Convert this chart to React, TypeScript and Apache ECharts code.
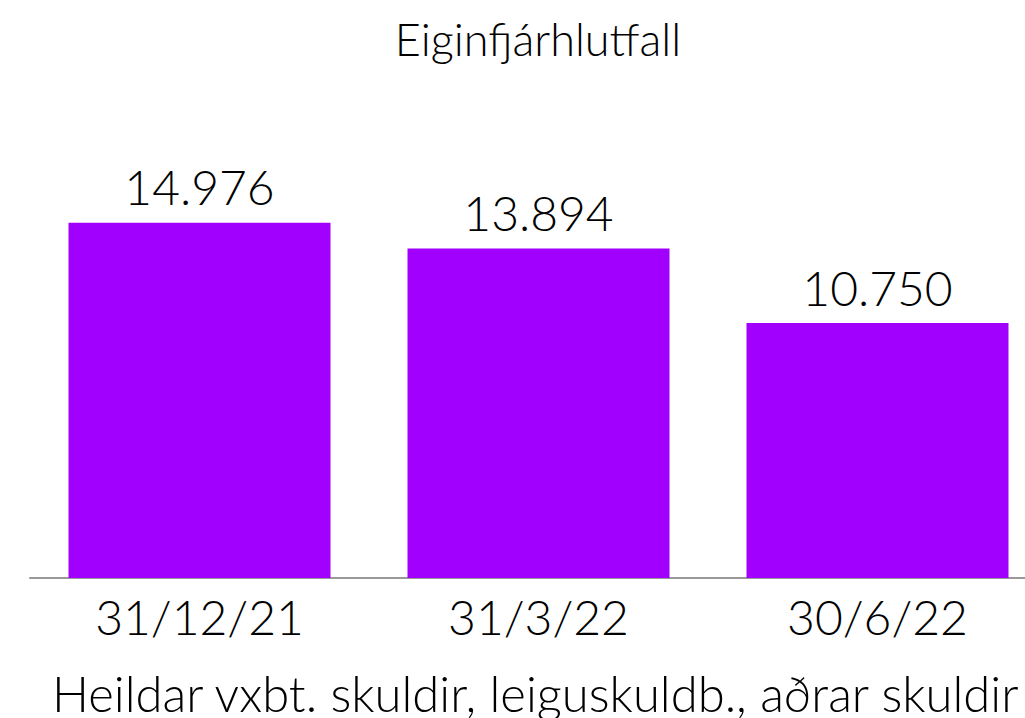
import React, { useEffect, useRef } from "react";
import * as echarts from "echarts";

const categories = ["31/12/21", "31/3/22", "30/6/22"];
const values = [14976, 13894, 10750];
const titleText = "Eiginfjárhlutfall";
const seriesName = "Heildar vxbt. skuldir, leiguskuldb., aðrar skuldir";

const FONT = "Lato";

function fmt(v: number): string {
  return String(v).replace(/\B(?=(\d{3})+(?!\d))/g, ".");
}

export default function App() {
  const ref = useRef<HTMLDivElement>(null);
  useEffect(() => {
    if (!ref.current) return;
    const chart = echarts.init(ref.current, null, { renderer: "svg" });
    chart.setOption({
      animation: false,
      backgroundColor: "#ffffff",
      textStyle: { fontFamily: FONT },
      title: {
        text: titleText,
        left: 538,
        top: 16,
        padding: 0,
        textAlign: "center",
        textStyle: { fontFamily: FONT, fontSize: 45, fontWeight: 300, color: "#000" },
      },
      grid: { left: 30, right: 13, top: 198.5, bottom: 140, containLabel: false },
      xAxis: {
        type: "category",
        data: categories,
        axisLine: { show: true, lineStyle: { color: "#999999", width: 2 } },
        axisTick: { show: false },
        axisLabel: {
          margin: 14,
          fontFamily: FONT,
          fontSize: 48,
          fontWeight: 300,
          color: "#000",
          interval: 0,
        },
      },
      yAxis: {
        type: "value",
        min: 0,
        max: 16000,
        show: false,
        splitLine: { show: false },
      },
      graphic: [
        {
          type: "text",
          left: 52,
          top: 668,
          style: {
            text: seriesName,
            fontFamily: FONT,
            fontSize: 49,
            fontWeight: 300,
            fill: "#000",
          },
        },
      ],
      series: [
        {
          name: seriesName,
          type: "bar",
          data: values,
          barWidth: 262,
          itemStyle: { color: "#A100FF" },
          label: {
            show: true,
            position: "top",
            distance: 12,
            formatter: (p: any) => fmt(p.value),
            fontFamily: FONT,
            fontSize: 48,
            fontWeight: 300,
            color: "#000",
          },
        },
      ],
    });
    return () => chart.dispose();
  }, []);
  return (
    <div style={{ position: "absolute", left: 0, top: 0, width: 1025, height: 718, overflow: "hidden" }}>
      <div ref={ref} style={{ width: 1060, height: 718 }} />
    </div>
  );
}
